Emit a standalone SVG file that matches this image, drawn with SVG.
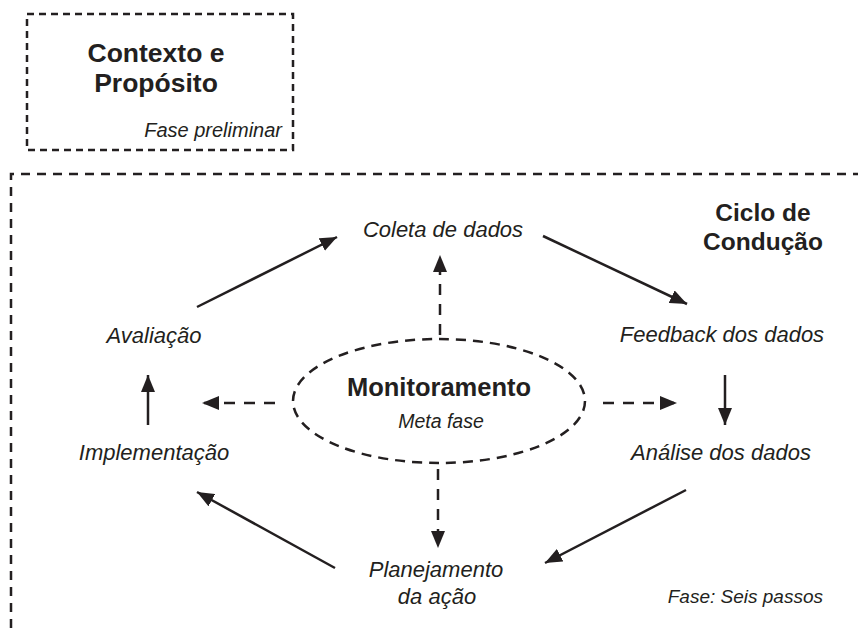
<svg xmlns="http://www.w3.org/2000/svg" width="858" height="628" viewBox="0 0 858 628">
  <defs>
    <marker id="ah" markerUnits="userSpaceOnUse" markerWidth="18" markerHeight="14" refX="17" refY="7" orient="auto">
      <path d="M0,0 L17,7 L0,14 z" fill="#231f20"/>
    </marker>
    <style>
      text { font-family: "Liberation Sans", Arial, sans-serif; fill: #231f20; }
      .b { font-weight: bold; }
      .i { font-style: italic; font-size: 22px; }
      .c { text-anchor: middle; }
      .frame { fill: none; stroke: #231f20; stroke-width: 2.5; }
      .solid { fill: none; stroke: #231f20; stroke-width: 2.5; marker-end: url(#ah); }
      .dash { fill: none; stroke: #231f20; stroke-width: 2.5; stroke-dasharray: 11 9; marker-end: url(#ah); }
    </style>
  </defs>
  <rect width="858" height="628" fill="#ffffff"/>

  <g id="contexto">
    <rect class="frame" x="27" y="14" width="266" height="136" stroke-dasharray="7 5"/>
    <text class="b c" x="156" y="62" font-size="26.5">Contexto e</text>
    <text class="b c" x="156" y="92" font-size="26.5">Propósito</text>
    <text class="i" x="282" y="137" text-anchor="end" style="font-size:20px">Fase preliminar</text>
  </g>

  <g id="ciclo">
    <path class="frame" d="M11,628 L11,174 L858,174" stroke-dasharray="9 7"/>
    <text class="b c" x="763" y="221" font-size="24.5">Ciclo de</text>
    <text class="b c" x="763" y="250" font-size="24.5">Condução</text>
    <text class="i" x="823" y="603" text-anchor="end" style="font-size:19px">Fase: Seis passos</text>
  </g>

  <g id="coleta"><text class="i c" x="443" y="237">Coleta de dados</text></g>
  <g id="feedback"><text class="i c" x="722" y="342">Feedback dos dados</text></g>
  <g id="analise"><text class="i c" x="721" y="460">Análise dos dados</text></g>
  <g id="planejamento">
    <text class="i c" x="436" y="577">Planejamento</text>
    <text class="i c" x="437" y="604">da ação</text>
  </g>
  <g id="implementacao"><text class="i c" x="154" y="460">Implementação</text></g>
  <g id="avaliacao"><text class="i c" x="154" y="343">Avaliação</text></g>

  <g id="monitoramento">
    <ellipse class="frame" cx="439" cy="401" rx="146" ry="62" stroke-dasharray="10 7"/>
    <text class="b c" x="439" y="396" font-size="25.5">Monitoramento</text>
    <text class="i c" x="441" y="428" style="font-size:19.5px">Meta fase</text>
  </g>

  <g id="connectors">
    <line class="solid" x1="197" y1="307" x2="337" y2="237"/>
    <line class="solid" x1="543" y1="236" x2="687" y2="304"/>
    <line class="solid" x1="725" y1="375" x2="725" y2="425"/>
    <line class="solid" x1="686" y1="490" x2="545" y2="563"/>
    <line class="solid" x1="335" y1="568" x2="197" y2="492"/>
    <line class="solid" x1="148" y1="425" x2="148" y2="375"/>
    <line class="dash" x1="440" y1="335" x2="440" y2="255"/>
    <line class="dash" x1="275" y1="403" x2="202" y2="403"/>
    <line class="dash" x1="603" y1="403" x2="677" y2="403"/>
    <line class="dash" x1="438" y1="469" x2="438" y2="548"/>
  </g>
</svg>
